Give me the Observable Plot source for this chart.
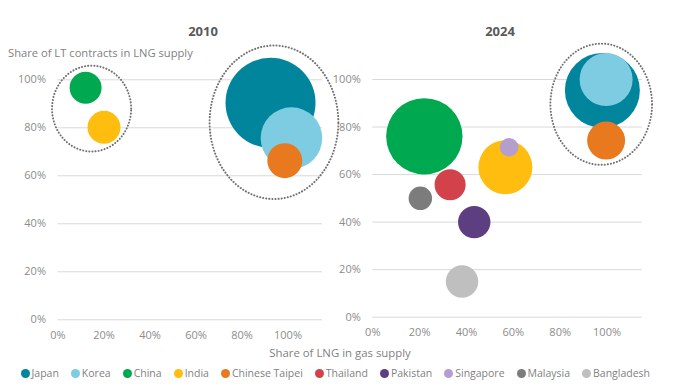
<!DOCTYPE html>
<html>
<head>
<meta charset="utf-8">
<script src="https://cdn.jsdelivr.net/npm/d3@7"></script>
<script src="https://cdn.jsdelivr.net/npm/@observablehq/plot@0.6"></script>
<style>
  body { margin: 0; background: #fff; }
  #wrap { position: relative; width: 676px; height: 391px; font-family: "Open Sans", sans-serif; overflow: hidden; }
  .title { position: absolute; top: 22px; font-size: 13px; font-weight: bold; color: #595959; transform: translateX(-50%); }
  #ylab { position: absolute; left: 8px; top: 45px; font-size: 11.2px; color: #7f7f7f; }
  #xlab { position: absolute; left: 340px; top: 345px; transform: translateX(-50%); font-size: 11.4px; color: #7f7f7f; white-space: nowrap; }
  #legend { position: absolute; left: 20.5px; top: 366px; display: flex; gap: 12px; font-size: 10.5px; color: #7f7f7f; white-space: nowrap; }
  #legend span.item { display: flex; align-items: center; gap: 2px; }
  #legend span.dot { display: inline-block; width: 9px; height: 9px; border-radius: 50%; }
  .panel { position: absolute; top: 0; }
</style>
</head>
<body>
<div id="wrap">
  <div class="title" style="left:203px">2010</div>
  <div class="title" style="left:500px">2024</div>
  <div id="ylab">Share of LT contracts in LNG supply</div>
  <div id="xlab">Share of LNG in gas supply</div>
  <div id="legend"></div>
</div>
<script>
// Legend / country list and colours
const countries = ["Japan", "Korea", "China", "India", "Chinese Taipei", "Thailand", "Pakistan", "Singapore", "Malaysia", "Bangladesh"];
const countryColors = ["#00859c", "#7ecce2", "#00a84f", "#ffbd0f", "#e8791f", "#d3424b", "#5c3e81", "#b49dcf", "#7c7c7c", "#bfbfbf"];

// 2010 panel
const countries2010 = ["Japan", "Korea", "China", "India", "Chinese Taipei"];
const lngShare2010 = [0.924, 1.015, 0.12, 0.20, 0.986];
const ltShare2010 = [0.904, 0.757, 0.967, 0.802, 0.663];
const size2010 = [100, 46.8, 12.6, 13.4, 15.1];

// 2024 panel
const countries2024 = ["Japan", "Korea", "China", "India", "Chinese Taipei", "Thailand", "Pakistan", "Singapore", "Malaysia", "Bangladesh"];
const lngShare2024 = [0.98, 0.996, 0.22, 0.566, 0.996, 0.33, 0.433, 0.582, 0.203, 0.381];
const ltShare2024 = [0.954, 1.0, 0.761, 0.631, 0.743, 0.557, 0.40, 0.715, 0.50, 0.15];
const size2024 = [69.4, 34.7, 72, 36, 17.8, 11.9, 13, 4.3, 6.8, 13];

// Tick values
const xTicks = [0, 0.2, 0.4, 0.6, 0.8, 1.0];
const yTicks = [0, 0.2, 0.4, 0.6, 0.8, 1.0];

// Dotted group ellipses (centre and radii in data units)
const ellipses2010 = [
  {cx: 0.146, cy: 0.88, rx: 0.172, ry: 0.179},
  {cx: 0.939, cy: 0.823, rx: 0.28, ry: 0.32}
];
const ellipses2024 = [
  {cx: 0.975, cy: 0.896, rx: 0.217, ry: 0.255}
];

function rows(names, xs, ys, ss) {
  return names.map((c, i) => ({country: c, x: xs[i], y: ys[i], size: ss[i]}))
    .sort((a, b) => b.size - a.size);
}
function ellipsePts(list) {
  const pts = [];
  list.forEach((e, k) => {
    for (let i = 0; i < 120; i++) {
      const t = (i / 120) * 2 * Math.PI;
      pts.push({g: k, x: e.cx + e.rx * Math.cos(t), y: e.cy + e.ry * Math.sin(t)});
    }
  });
  return pts;
}
const fmt = d => Math.round(d * 100) + "%";

function panel(data, ells, opts) {
  return Plot.plot({
    width: 338,
    height: 345,
    marginLeft: opts.ml,
    marginRight: opts.mr,
    marginTop: opts.mt,
    marginBottom: opts.mb,
    style: {fontFamily: "Open Sans, sans-serif", fontSize: "11px", overflow: "visible"},
    x: {domain: [0, 1.15]},
    y: {domain: [0, 1.15]},
    r: {type: "sqrt", domain: [0, 100], range: [0, 45]},
    color: {domain: countries, range: countryColors},
    marks: [
      Plot.ruleY(yTicks, {stroke: "#d9d9d9", strokeWidth: 1}),
      Plot.axisX({ticks: xTicks, tickSize: 0, tickPadding: 11, tickFormat: fmt, fill: "#8c8c8c", label: null}),
      Plot.axisY({ticks: yTicks, tickSize: 0, tickPadding: 12, tickFormat: fmt, fill: "#8c8c8c", label: null}),
      Plot.dot(data, {x: "x", y: "y", r: "size", fill: "country", fillOpacity: 1, stroke: "none"}),
      Plot.line(ells, {x: "x", y: "y", z: "g", curve: "linear-closed", stroke: "#707070", strokeWidth: 2, strokeDasharray: "0.1 3", strokeLinecap: "round"})
    ]
  });
}

const wrap = document.getElementById("wrap");
const p1 = panel(rows(countries2010, lngShare2010, ltShare2010, size2010), ellipsePts(ellipses2010),
  {ml: 57.5, mr: 16, mt: 43.3, mb: 25.7});
p1.classList.add("panel"); p1.style.left = "0px";
const p2 = panel(rows(countries2024, lngShare2024, ltShare2024, size2024), ellipsePts(ellipses2024),
  {ml: 34.3, mr: 34.3, mt: 43.35, mb: 28.3});
p2.classList.add("panel"); p2.style.left = "338px";
wrap.insertBefore(p2, wrap.firstChild);
wrap.insertBefore(p1, wrap.firstChild);

const legend = document.getElementById("legend");
countries.forEach((c, i) => {
  const item = document.createElement("span");
  item.className = "item";
  const dot = document.createElement("span");
  dot.className = "dot";
  dot.style.background = countryColors[i];
  item.appendChild(dot);
  item.appendChild(document.createTextNode(c));
  legend.appendChild(item);
});
</script>
</body>
</html>
